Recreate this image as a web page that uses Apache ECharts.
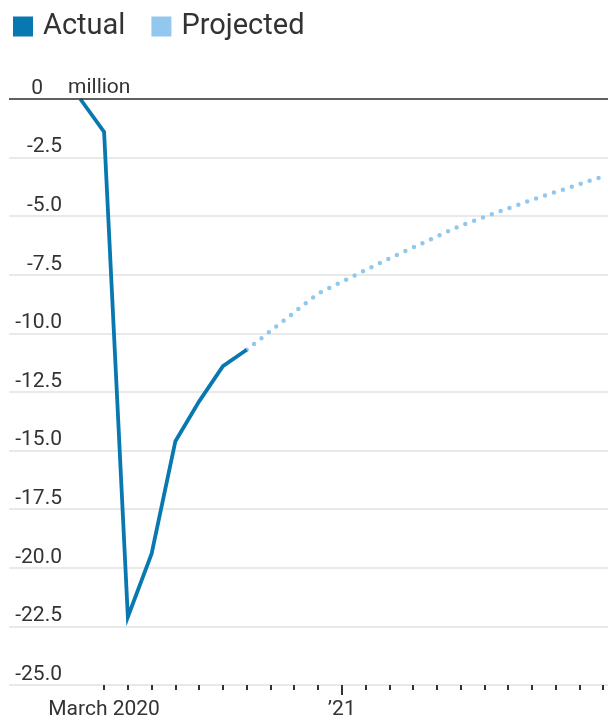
<!DOCTYPE html>
<html>
<head>
<meta charset="utf-8">
<script src="https://cdn.jsdelivr.net/npm/echarts@6/dist/echarts.min.js"></script>
<style>
  html, body { margin: 0; padding: 0; background: #fff; }
  #chart { width: 608px; height: 728px; }
</style>
</head>
<body>
<div id="chart"></div>
<script>
// months on the x axis, index 0 = Feb 2020
const months = ['Feb 2020', 'Mar 2020', 'Apr 2020', 'May 2020', 'Jun 2020', 'Jul 2020', 'Aug 2020',
  'Sep 2020', 'Oct 2020', 'Nov 2020', 'Dec 2020', 'Jan 2021', 'Feb 2021', 'Mar 2021', 'Apr 2021',
  'May 2021', 'Jun 2021', 'Jul 2021', 'Aug 2021', 'Sep 2021', 'Oct 2021', 'Nov 2021', 'Dec 2021'];

// change in jobs, millions
const actualMonths = ['Feb 2020', 'Mar 2020', 'Apr 2020', 'May 2020', 'Jun 2020', 'Jul 2020', 'Aug 2020', 'Sep 2020'];
const actualValues = [0, -1.4, -22.1, -19.4, -14.6, -12.9, -11.4, -10.7];

const projectedMonths = ['Sep 2020', 'Dec 2020', 'Mar 2021', 'Jun 2021', 'Sep 2021', 'Dec 2021'];
const projectedValues = [-10.7, -8.3, -6.8, -5.4, -4.3, -3.3];

const xLabels = {'Mar 2020': 'March 2020', 'Jan 2021': '\u201921'};

const FONT = 'Roboto';
const TXT = '#333333';

const monthIdx = (m) => months.indexOf(m);
const toPairs = (ms, vs) => ms.map((m, i) => [monthIdx(m), vs[i]]);

const tickMonths = months.slice(1).map(monthIdx);           // every month from March 2020
const labelMonths = Object.keys(xLabels).map(monthIdx);
const bigTick = [monthIdx('Jan 2021')];

const chart = echarts.init(document.getElementById('chart'));

const xBase = {
  type: 'value',
  position: 'bottom',
  min: -3,
  max: 22.2,
  axisLine: {show: false, onZero: false},
  splitLine: {show: false},
};

chart.setOption({
  animation: false,
  textStyle: {fontFamily: FONT},
  legend: {
    left: 13,
    top: 12,
    padding: 0,
    itemWidth: 20,
    itemHeight: 20,
    itemGap: 26,
    icon: 'rect',
    selectedMode: false,
    textStyle: {fontSize: 29, color: TXT, fontFamily: FONT, padding: [0, 0, 0, 5]},
    data: ['Actual', 'Projected'],
  },
  grid: {left: 9, right: 0, top: 99, bottom: 43, containLabel: false},
  xAxis: [
    Object.assign({}, xBase, {
      axisTick: {show: true, customValues: tickMonths, length: 5, lineStyle: {color: TXT, width: 2}},
      axisLabel: {
        show: true,
        customValues: labelMonths,
        margin: 14,
        fontSize: 21,
        color: TXT,
        fontFamily: FONT,
        formatter: (v) => xLabels[months[Math.round(v)]] || '',
      },
    }),
    Object.assign({}, xBase, {   // longer tick for the year mark
      axisTick: {show: true, customValues: bigTick, length: 10, lineStyle: {color: TXT, width: 2}},
      axisLabel: {show: false},
    }),
  ],
  yAxis: {
    type: 'value',
    min: -25,
    max: 0,
    interval: 2.5,
    axisLine: {show: false},
    axisTick: {show: false},
    splitLine: {show: true, lineStyle: {color: '#e2e2e2', width: 1.5}},
    axisLabel: {
      inside: true,
      align: 'right',
      verticalAlign: 'bottom',
      margin: 53,
      fontSize: 21,
      lineHeight: 21,
      color: TXT,
      fontFamily: FONT,
      formatter: (v) => v === 0 ? '{z|0}' : v.toFixed(1),
      rich: {z: {fontSize: 21, lineHeight: 21, color: TXT, fontFamily: FONT, padding: [0, 19, 0, 0]}},
    },
  },
  graphic: [{
    type: 'text',
    left: 68,
    top: 77,
    style: {text: 'million', font: '21px ' + FONT, fill: TXT},
  }],
  series: [
    {
      name: 'Projected',
      type: 'line',
      data: toPairs(projectedMonths, projectedValues),
      symbol: 'none',
      itemStyle: {color: '#93c8ee'},
      lineStyle: {color: '#93c8ee', width: 4.5, type: [0, 9.4], cap: 'round'},
      z: 2,
    },
    {
      name: 'Actual',
      type: 'line',
      data: toPairs(actualMonths, actualValues),
      symbol: 'none',
      itemStyle: {color: '#0878b0'},
      lineStyle: {color: '#0878b0', width: 3.8, join: 'miter'},
      z: 3,
      markLine: {
        silent: true,
        symbol: 'none',
        label: {show: false},
        lineStyle: {color: TXT, width: 1.5, type: 'solid'},
        data: [{yAxis: 0}],
      },
    },
  ],
});
</script>
</body>
</html>
